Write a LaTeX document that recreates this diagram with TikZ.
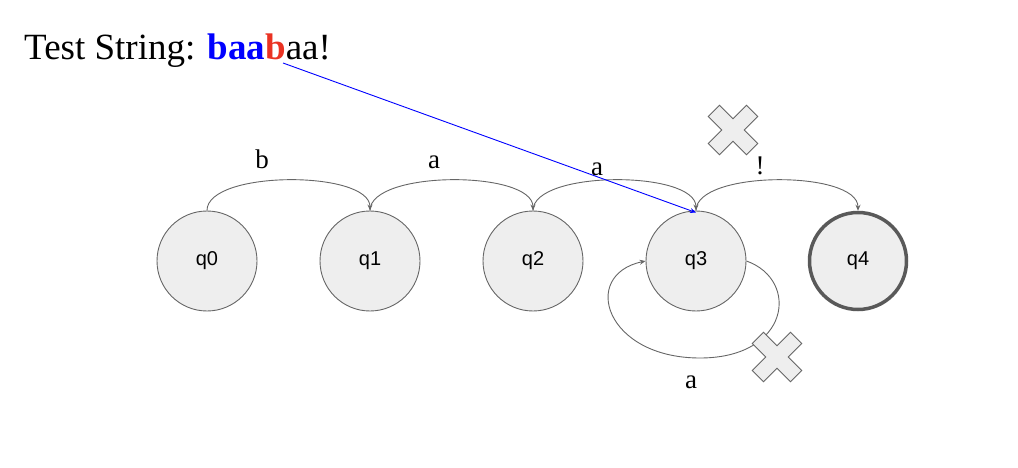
\documentclass[tikz,border=0pt]{standalone}
\usepackage{fontspec}
\setmainfont{Liberation Serif}
\newfontfamily\statefont{Liberation Sans}
\usetikzlibrary{arrows.meta}
\definecolor{stgray}{HTML}{666666}
\definecolor{stfill}{HTML}{EEEEEE}
\definecolor{hlblue}{HTML}{0000FF}
\definecolor{hlred}{HTML}{EA3323}
\tikzset{
  state/.style={circle, draw=stgray, fill=stfill, line width=0.9pt, minimum size=100pt, inner sep=0pt, font=\statefont\fontsize{20}{24}\selectfont},
  accept/.style={state, line width=3.5pt, draw=black!65, minimum size=97pt},
  trans/.style={draw=stgray, line width=0.9pt, -{Stealth[length=6pt,width=5pt]}},
  elabel/.style={font=\fontsize{27}{32}\selectfont, anchor=base, inner sep=0pt},
  xmark/.style={draw=stgray, fill=stfill, line width=0.9pt, line join=miter},
  pointer/.style={draw=hlblue, line width=0.9pt, -{Stealth[length=6pt,width=5pt]}}
}
\begin{document}
\begin{tikzpicture}[x=1pt,y=-1pt]
\useasboundingbox (0,0) rectangle (1018,468);
\node[anchor=base west, inner sep=0pt, font=\fontsize{37}{44}\selectfont] (title) at (24,60)
  {Test String: \textbf{\color{hlblue}baa\color{hlred}b}aa!};
\node[state] (q0) at (207,261) {q0};
\node[state] (q1) at (370,261) {q1};
\node[state] (q2) at (533,261) {q2};
\node[state] (q3) at (696,261) {q3};
\node[accept] (q4) at (858,261) {q4};
\draw[trans] (q0.north) .. controls (207,170) and (370,170) .. (q1.north);
\draw[trans] (q1.north) .. controls (370,170) and (533,170) .. (q2.north);
\draw[trans] (q2.north) .. controls (533,170) and (696,170) .. (q3.north);
\draw[trans] (q3.north) .. controls (696,170) and (858,170) .. (q4.north);
\draw[trans] (q3.east) .. controls (800,280) and (790,358) .. (700,358)
  .. controls (605,358) and (580,275) .. (q3.west);
\node[elabel] (lb) at (262,168) {b};
\node[elabel] (la1) at (434,168) {a};
\node[elabel] (la2) at (597,176) {a};
\node[elabel] (lex) at (760,175) {!};
\node[elabel] (lself) at (691,388) {a};
\coordinate (pstart) at (283,63);
\draw[pointer] (pstart) -- ([yshift=-2pt]q3.north);
\foreach \cx/\cy in {733/130, 777/357} {
  \draw[xmark, shift={(\cx,\cy)}, rotate=45]
    (-8,27) -- (8,27) -- (8,8) -- (27,8) -- (27,-8) -- (8,-8) -- (8,-27)
    -- (-8,-27) -- (-8,-8) -- (-27,-8) -- (-27,8) -- (-8,8) -- cycle;
}
\end{tikzpicture}
\end{document}
